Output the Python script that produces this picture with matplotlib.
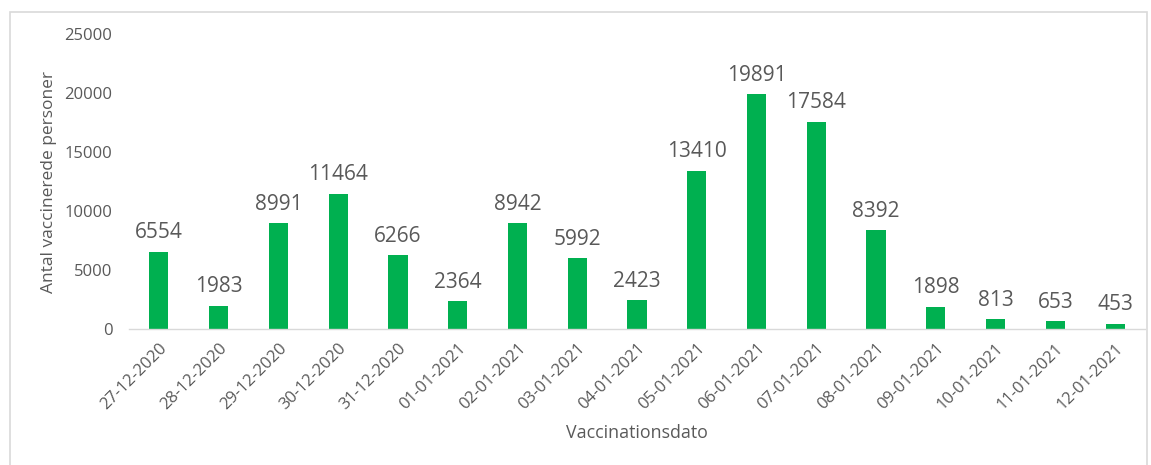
import matplotlib.pyplot as plt
from matplotlib.patches import Rectangle

# data
dates = ["27-12-2020", "28-12-2020", "29-12-2020", "30-12-2020", "31-12-2020",
         "01-01-2021", "02-01-2021", "03-01-2021", "04-01-2021", "05-01-2021",
         "06-01-2021", "07-01-2021", "08-01-2021", "09-01-2021", "10-01-2021",
         "11-01-2021", "12-01-2021"]
vaccinated = [6554, 1983, 8991, 11464, 6266, 2364, 8942, 5992, 2423, 13410,
              19891, 17584, 8392, 1898, 813, 653, 453]
y_ticks = [0, 5000, 10000, 15000, 20000, 25000]

GREEN = "#00B050"
GREY = "#595959"

plt.rcParams["font.family"] = ["Open Sans", "DejaVu Sans"]

fig = plt.figure(figsize=(11.51, 4.65), dpi=100)
ax = fig.add_axes([129 / 1151, 1 - 329 / 465, (1145 - 129) / 1151, (329 - 34) / 465])

x = list(range(len(dates)))
bars = ax.bar(x, vaccinated, width=0.32, color=GREEN, zorder=2)
ax.bar_label(bars, labels=[str(v) for v in vaccinated], padding=6,
             fontsize=15, color=GREY)

ax.set_xlim(-0.5, len(dates) - 0.5)
ax.set_ylim(0, 25000)
ax.set_yticks(y_ticks)
ax.set_yticklabels([str(t) for t in y_ticks], fontsize=12, color=GREY)
ax.set_xticks(x)
ax.set_xticklabels(dates, rotation=45, ha="right", rotation_mode="anchor",
                   fontsize=12, color=GREY)
ax.tick_params(axis="both", length=0)
ax.tick_params(axis="y", pad=12)
ax.tick_params(axis="x", pad=8)

for s in ["top", "right", "left"]:
    ax.spines[s].set_visible(False)
ax.spines["bottom"].set_color("#D9D9D9")
ax.spines["bottom"].set_linewidth(1.0)

ax.set_xlabel("Vaccinationsdato", fontsize=12.8, color=GREY, labelpad=8)
ax.set_ylabel("Antal vaccinerede personer", fontsize=12.5, color=GREY)
ax.yaxis.set_label_coords(-72 / 1016, 0.5)

# chart frame
fig.patches.append(Rectangle((10 / 1151, -0.05), (1147 - 10) / 1151, 1.05 - 12 / 465,
                             transform=fig.transFigure, fill=False,
                             edgecolor="#D9D9D9", linewidth=1.2))

fig.savefig("out.png", dpi=100)
